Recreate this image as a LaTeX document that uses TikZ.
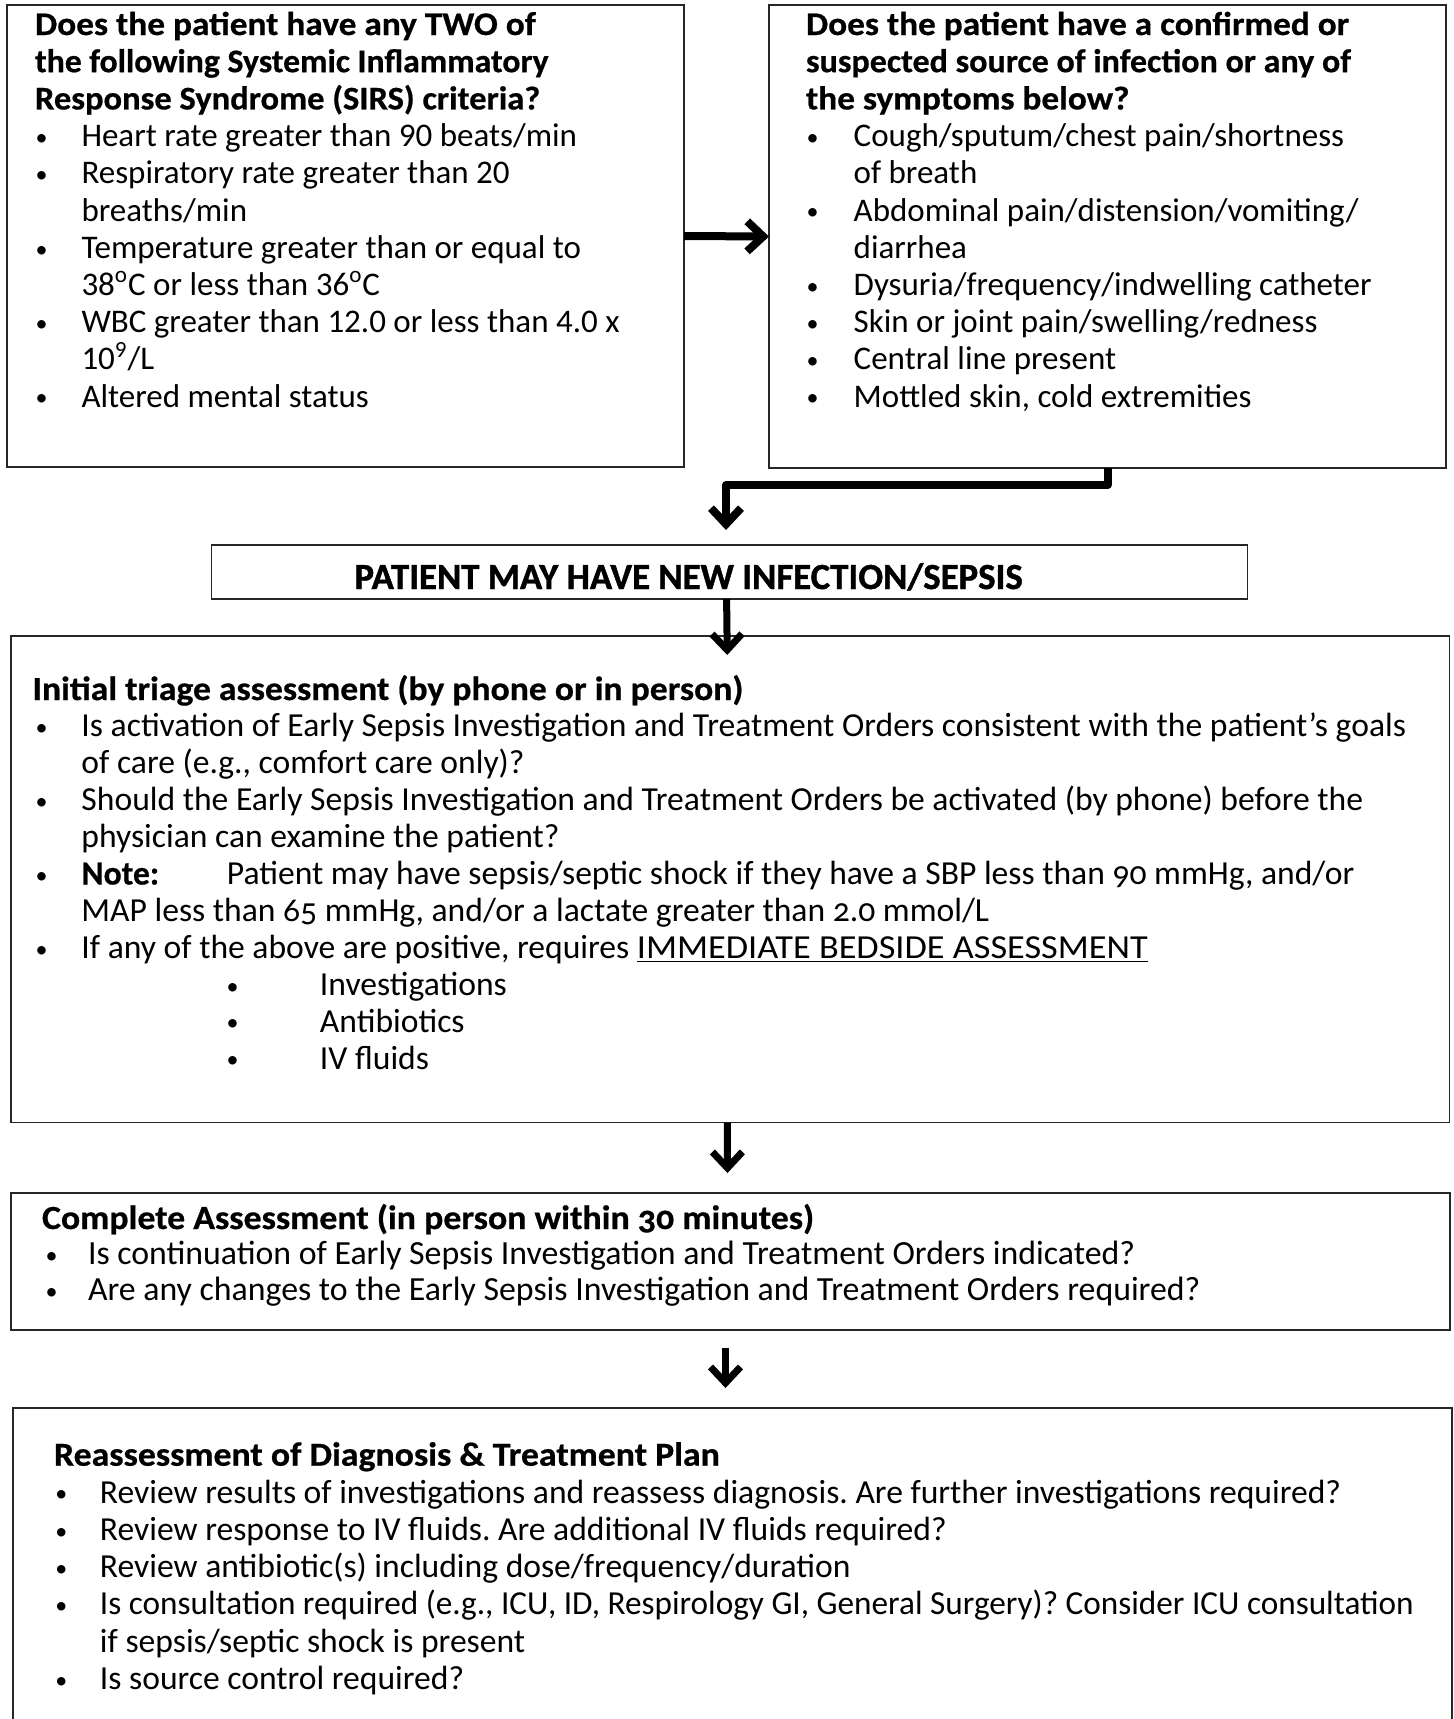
\documentclass[tikz,border=0pt]{standalone}
\usepackage{fontspec}
\setmainfont{Carlito}
\usetikzlibrary{arrows.meta,calc}
\frenchspacing
\newcommand{\rows}[2]{\vtop{\baselineskip=#1\lineskiplimit=-20pt\lineskip=0pt\halign{##\hfil\cr#2\crcr}}}
\newcommand{\bul}{\raisebox{0.6pt}{\fontsize{12}{12}\selectfont\textbullet}}
\newcommand{\bl}[2]{\makebox[#2][l]{\hspace*{#1}\makebox[0pt]{\bul}}}
\newcommand{\os}[1]{{\addfontfeature{Numbers=OldStyle}#1}}
\newcommand{\hd}[2]{\scalebox{#1}[1]{\bfseries\addfontfeature{FakeBold=0.6}#2}}
\begin{document}
\begin{tikzpicture}[x=0.5pt,y=-0.5pt,
  box/.style={draw=black!85, line width=0.75pt, rectangle, inner sep=0pt, outer sep=0pt, anchor=north west},
  txt/.style={anchor=base west, inner sep=0pt, outer sep=0pt, font=\fontsize{16.5}{18.6}\selectfont},
  txtb/.style={anchor=base west, inner sep=0pt, outer sep=0pt, font=\fontsize{16.8}{18.6}\selectfont},
  arr/.style={draw=black, line width=4pt, -{Straight Barb[length=8pt,width=15pt]}},
  arrs/.style={draw=black, line width=3.5pt, -{Straight Barb[length=8pt,width=15pt]}}]
\useasboundingbox (0,0) rectangle (1454,1719);
\clip (0,0) rectangle (1454,1719);
\fill[white] (0,0) rectangle (1454,1719);
% boxes
\node[box, minimum width=338.5pt, minimum height=231pt] (sirs) at (7,5) {};
\node[box, minimum width=338.5pt, minimum height=231.5pt] (infect) at (769,5) {};
\node[box, minimum width=518pt, minimum height=27pt] (sepsis) at (211.6,545) {};
\node[box, minimum width=719.25pt, minimum height=243.25pt] (triage) at (11,636) {};
\node[box, minimum width=719.5pt, minimum height=68.5pt] (complete) at (11,1193) {};
\node[box, minimum width=719.5pt, minimum height=170pt] (reassess) at (13,1408) {};
% texts
\node[anchor=base, inner sep=0pt, font=\fontsize{18.4}{20}\selectfont\bfseries\addfontfeature{FakeBold=1.2}] (t0) at (688.6,589) {PATIENT MAY HAVE NEW INFECTION/SEPSIS};
\node[txt] (t1) at (35,35) {\rows{18.6pt}{%
\hd{1.07}{Does the patient have any TWO of}\cr
\hd{1.022}{the following Systemic Inflammatory}\cr
\hd{1.045}{Response Syndrome (SIRS) criteria?}\cr
\bl{3.35pt}{23.25pt}Heart rate greater than 90 beats/min\cr
\bl{3.35pt}{23.25pt}Respiratory rate greater than 20\cr
\hspace*{23.25pt}breaths/min\cr
\bl{3.35pt}{23.25pt}Temperature greater than or equal to\cr
\hspace*{23.25pt}38\textsuperscript{o}C or less than 36\textsuperscript{o}C\cr
\bl{3.35pt}{23.25pt}WBC greater than 12.0 or less than 4.0 x\cr
\hspace*{23.25pt}10\textsuperscript{9}/L\cr
\bl{3.35pt}{23.25pt}Altered mental status\cr}};
\node[txt] (t2) at (806,35) {\rows{18.6pt}{%
\hd{1.068}{Does the patient have a confirmed or}\cr
\hd{1.032}{suspected source of infection or any of}\cr
\hd{1.07}{the symptoms below?}\cr
\bl{3.25pt}{23.85pt}Cough/sputum/chest pain/shortness\cr
\hspace*{23.85pt}of breath\cr
\bl{3.25pt}{23.85pt}Abdominal pain/distension/vomiting/\cr
\hspace*{23.85pt}diarrhea\cr
\bl{3.25pt}{23.85pt}Dysuria/frequency/indwelling catheter\cr
\bl{3.25pt}{23.85pt}Skin or joint pain/swelling/redness\cr
\bl{3.25pt}{23.85pt}Central line present\cr
\bl{3.25pt}{23.85pt}Mottled skin, cold extremities\cr}};
\node[txtb] (t3) at (32.5,700) {\rows{18.45pt}{%
\hd{1.06}{Initial triage assessment (by phone or in person)}\cr
\bl{4.6pt}{24.5pt}Is activation of Early Sepsis Investigation and Treatment Orders consistent with the patient’s goals\cr
\hspace*{24.5pt}of care (e.g., comfort care only)?\cr
\bl{4.6pt}{24.5pt}Should the Early Sepsis Investigation and Treatment Orders be activated (by phone) before the\cr
\hspace*{24.5pt}physician can examine the patient?\cr
\bl{4.6pt}{24.5pt}\makebox[72.7pt][l]{\bfseries\addfontfeature{FakeBold=0.6}Note:}Patient may have sepsis/septic shock if they have a SBP less than \os{90} mmHg, and/or\cr
\hspace*{24.5pt}MAP less than \os{65} mmHg, and/or a lactate greater than \os{2.0} mmol/L\cr
\bl{4.6pt}{24.5pt}If any of the above are positive, requires \underline{\scalebox{1.08}[1]{IMMEDIATE BEDSIDE ASSESSMENT}}\cr
\bl{100pt}{143.75pt}Investigations\cr
\bl{100pt}{143.75pt}Antibiotics\cr
\bl{100pt}{143.75pt}IV fluids\cr}};
\node[txtb, font=\fontsize{16.9}{18.6}\selectfont] (t4) at (42,1229) {\rows{17.85pt}{%
\hd{1.06}{Complete Assessment (in person within \os{30} minutes)}\cr
\bl{4.75pt}{23pt}Is continuation of Early Sepsis Investigation and Treatment Orders indicated?\cr
\bl{4.75pt}{23pt}Are any changes to the Early Sepsis Investigation and Treatment Orders required?\cr}};
\node[txtb] (t5) at (54,1465.7) {\rows{18.65pt}{%
\hd{1.065}{Reassessment of Diagnosis \& Treatment Plan}\cr
\bl{3.7pt}{23pt}Review results of investigations and reassess diagnosis. Are further investigations required?\cr
\bl{3.7pt}{23pt}Review response to IV fluids. Are additional IV fluids required?\cr
\bl{3.7pt}{23pt}Review antibiotic(s) including dose/frequency/duration\cr
\bl{3.7pt}{23pt}\scalebox{0.989}[1]{Is consultation required (e.g., ICU, ID, Respirology GI, General Surgery)? Consider ICU consultation}\cr
\hspace*{23pt}if sepsis/septic shock is present\cr
\bl{3.7pt}{23pt}Is source control required?\cr}};
% connector end points
\coordinate (e2) at ($(sepsis.north)+(-3.6,-15)$);
\coordinate (e3) at ($(triage.north)+(-3,19)$);
\coordinate (s3) at ($(sepsis.south)+(-3,0)$);
\coordinate (s4) at ($(triage.south)+(-3,0)$);
\coordinate (e4) at ($(complete.north)+(-3,-20)$);
\coordinate (s5) at ($(complete.south)+(-5,18)$);
\coordinate (e5) at ($(reassess.north)+(-7,-20)$);
% connectors
\draw[arr] (sirs.east) -- (infect.west);
\draw[arr, line join=round] (infect.south) -- ++(0,17) -| (e2);
\draw[arrs] (s3) -- (e3);
\draw[arrs] (s4) -- (e4);
\draw[arrs] (s5) -- (e5);
\end{tikzpicture}
\end{document}
